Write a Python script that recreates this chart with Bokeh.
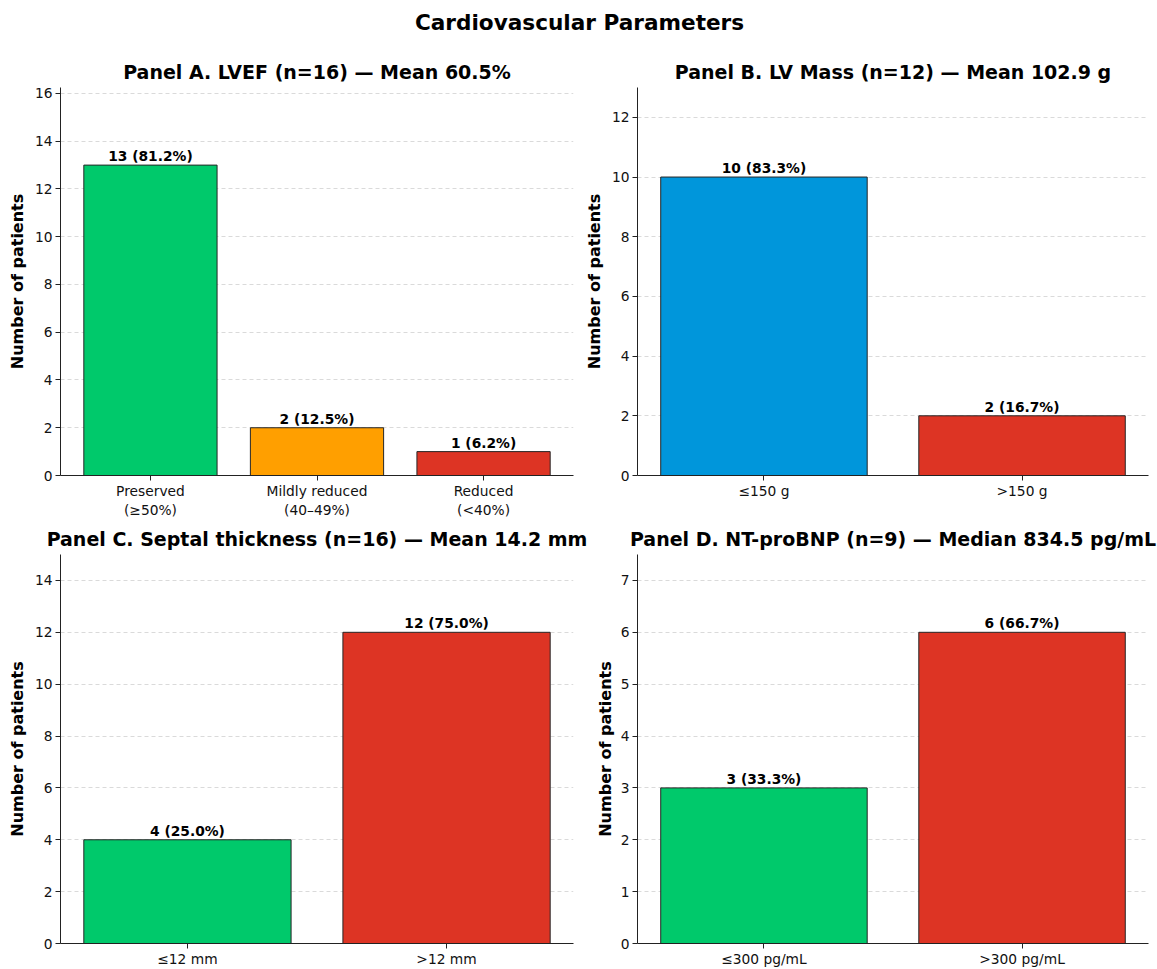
from bokeh.plotting import figure
from bokeh.models import Range1d, FixedTicker, ColumnDataSource, Label
from bokeh.layouts import column, row
from bokeh.embed import file_html
from bokeh.resources import INLINE
from bokeh.core.properties import value

FONT = "DejaVu Sans"

main_title = "Cardiovascular Parameters"

# Panel A
a_title = "Panel A. LVEF (n=16) — Mean 60.5%"
a_cats = ["Preserved\n(≥50%)", "Mildly reduced\n(40–49%)", "Reduced\n(<40%)"]
a_counts = [13, 2, 1]
a_n = 16
a_colors = ["#00c96b", "#ff9f00", "#dd3424"]
a_ymax = 16.25
a_yticks = [0, 2, 4, 6, 8, 10, 12, 14, 16]

# Panel B
b_title = "Panel B. LV Mass (n=12) — Mean 102.9 g"
b_cats = ["≤150 g", ">150 g"]
b_counts = [10, 2]
b_n = 12
b_colors = ["#0096db", "#dd3424"]
b_ymax = 13
b_yticks = [0, 2, 4, 6, 8, 10, 12]

# Panel C
c_title = "Panel C. Septal thickness (n=16) — Mean 14.2 mm"
c_cats = ["≤12 mm", ">12 mm"]
c_counts = [4, 12]
c_n = 16
c_colors = ["#00c96b", "#dd3424"]
c_ymax = 15
c_yticks = [0, 2, 4, 6, 8, 10, 12, 14]

# Panel D
d_title = "Panel D. NT-proBNP (n=9) — Median 834.5 pg/mL"
d_cats = ["≤300 pg/mL", ">300 pg/mL"]
d_counts = [3, 6]
d_n = 9
d_colors = ["#00c96b", "#dd3424"]
d_ymax = 7.5
d_yticks = [0, 1, 2, 3, 4, 5, 6, 7]


def make_panel(title, cats, counts, n, colors, ymax, yticks,
               width, height, bl, br, bt, bb, label_standoff=5):
    k = len(cats)
    span = (k - 1) + 0.8
    m = 0.05 * span
    p = figure(width=width, height=height, output_backend="svg",
               toolbar_location=None,
               x_range=Range1d(-0.4 - m, k - 1 + 0.4 + m),
               y_range=Range1d(0, ymax),
               min_border_left=bl, min_border_right=br,
               min_border_top=bt, min_border_bottom=bb)
    xs = list(range(k))
    labels = [f"{c} ({c / n * 100:.1f}%)" for c in counts]
    src = ColumnDataSource(dict(x=xs, top=counts, color=colors, label=labels))
    p.vbar(x="x", top="top", width=0.8, fill_color="color",
           line_color="#262626", line_width=1, source=src)
    p.text(x="x", y="top", text="label", source=src, text_align="center",
           text_baseline="bottom", y_offset=-1, text_font=value(FONT),
           text_font_style="bold", text_font_size="13.8px", text_color="black")

    p.title.text = title
    p.title.align = "center"
    p.title.text_font = FONT
    p.title.text_font_size = "19px"
    p.title.text_font_style = "bold"
    p.title.text_color = "black"
    p.title.standoff = 10

    p.outline_line_color = None
    p.xgrid.visible = False
    p.ygrid.ticker = FixedTicker(ticks=yticks)
    p.ygrid.grid_line_color = "#b0b0b0"
    p.ygrid.grid_line_alpha = 0.6
    p.ygrid.grid_line_dash = "4 3"
    p.ygrid.grid_line_width = 0.8

    p.xaxis.ticker = FixedTicker(ticks=xs)
    p.xaxis.major_label_overrides = {i: c for i, c in enumerate(cats)}
    p.yaxis.ticker = FixedTicker(ticks=yticks)
    for ax in (p.xaxis, p.yaxis):
        ax.axis_line_color = "#222222"
        ax.axis_line_width = 1
        ax.major_tick_line_color = "#222222"
        ax.major_tick_out = 5
        ax.major_tick_in = 0
        ax.minor_tick_line_color = None
        ax.major_label_text_font = FONT
        ax.major_label_text_font_size = "13.8px"
        ax.major_label_text_color = "#111111"
        ax.major_label_standoff = 3
    p.xaxis.major_label_standoff = 2
    p.yaxis.axis_label = "Number of patients"
    p.yaxis.axis_label_text_font = FONT
    p.yaxis.axis_label_text_font_size = "16px"
    p.yaxis.axis_label_text_font_style = "bold"
    p.yaxis.axis_label_text_color = "black"
    p.yaxis.axis_label_standoff = label_standoff
    return p


# title strip
t = figure(width=1157, height=42, output_backend="svg", toolbar_location=None,
           x_range=Range1d(0, 1157), y_range=Range1d(42, 0), min_border=0)
t.axis.visible = False
t.grid.visible = False
t.outline_line_color = None
t.add_layout(Label(x=579, y=22, text=main_title, text_align="center",
                   text_baseline="middle", text_font=FONT,
                   text_font_size="21.6px", text_font_style="bold",
                   text_color="black"))

pa = make_panel(a_title, a_cats, a_counts, a_n, a_colors, a_ymax, a_yticks,
                581, 478, 60, 8, 45, 44)
pb = make_panel(b_title, b_cats, b_counts, b_n, b_colors, b_ymax, b_yticks,
                576, 478, 56, 9, 45, 44)
pc = make_panel(c_title, c_cats, c_counts, c_n, c_colors, c_ymax, c_yticks,
                589, 449, 60, 16, 34, 26)
pd_ = make_panel(d_title, d_cats, d_counts, d_n, d_colors, d_ymax, d_yticks,
                 568, 449, 48, 9, 34, 26, label_standoff=3)

layout = column(t, row(pa, pb), row(pc, pd_))

open("out.html", "w").write(file_html(layout, INLINE))
